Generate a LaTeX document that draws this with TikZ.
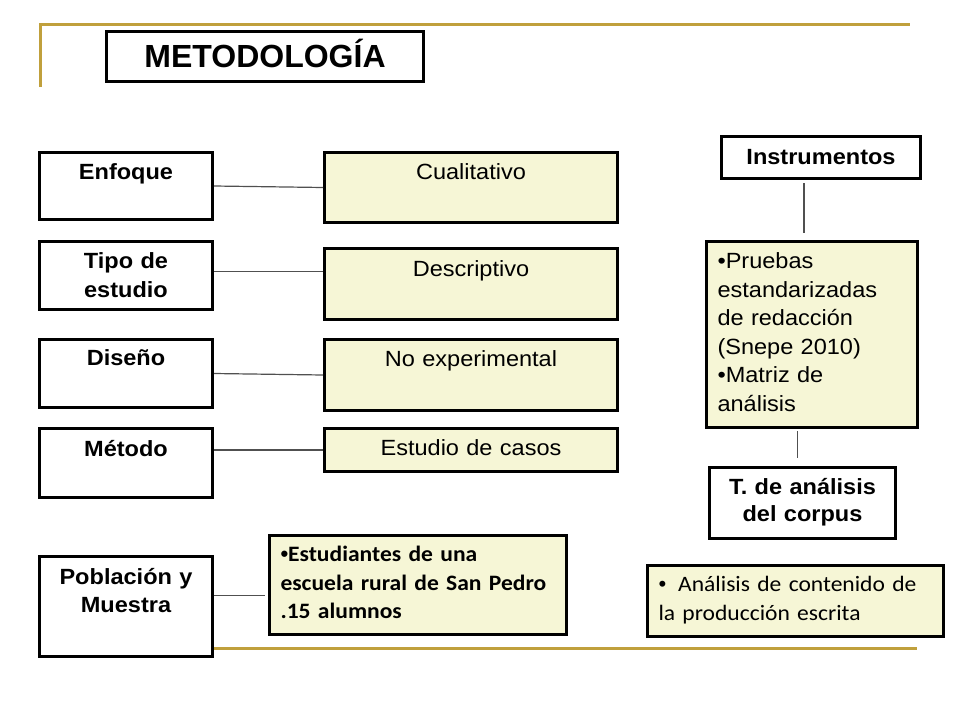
\documentclass[tikz,border=0pt]{standalone}
\usepackage{fontspec}
\setmainfont[FakeStretch=1.07]{Liberation Sans}
\newfontfamily\titulo{Liberation Sans}
\newfontfamily\calibri[FakeStretch=1.07]{Carlito}
\definecolor{amarillo}{RGB}{246,246,214}
\definecolor{dorado}{RGB}{192,160,60}
\definecolor{gris}{RGB}{80,80,80}
\newcommand{\vineta}{{\titulo•}}
\tikzset{
  caja/.style={draw=black, line width=3pt, fill=white, anchor=north west,
    inner xsep=4pt, inner ysep=0pt, align=center,
    font=\bfseries\fontsize{22}{29}\selectfont},
  cajaam/.style={caja, fill=amarillo, font=\fontsize{22}{29}\selectfont},
  conexion/.style={gris, line width=1.2pt},
  filete/.style={dorado, line width=3pt}
}
\begin{document}
\begin{tikzpicture}[x=1pt,y=-1pt]
\useasboundingbox (0,0) rectangle (960,720);
%\draw[gray,very thin] (0,0) grid[xstep=50,ystep=50] (960,720);
\draw[filete] (40,87) -- (40,24) -- (910,24);
\draw[filete] (212,648) -- (917,648);
% titulo
\node[caja, text width=309pt, text height=36pt, text depth=14pt,
  font=\titulo\bfseries\fontsize{32}{38}\selectfont] (metodologia) at (105,30) {METODOLOGÍA};
% columna izquierda
\node[caja, text width=165pt, text height=27pt, text depth=40pt] (enfoque) at (38,151) {Enfoque};
\node[caja, text width=165pt, text height=27pt, text depth=41pt] (tipo) at (38,240) {Tipo de\\estudio};
\node[caja, text width=165pt, text height=26pt, text depth=42pt] (diseno) at (38,338) {Diseño};
\node[caja, text width=165pt, text height=28pt, text depth=41pt] (metodo) at (38,427) {Método};
\node[caja, text width=165pt, text height=28pt, text depth=72pt,
  font=\bfseries\fontsize{22}{28}\selectfont] (poblacion) at (38,555) {Población y\\Muestra};
% columna central
\node[cajaam, text width=285pt, text height=27pt, text depth=43pt] (cualitativo) at (323,151) {Cualitativo};
\node[cajaam, text width=285pt, text height=28pt, text depth=43pt] (descriptivo) at (323,247) {Descriptivo};
\node[cajaam, text width=285pt, text height=27pt, text depth=44pt] (noexp) at (323,338) {No experimental};
\node[cajaam, text width=275pt, inner xsep=11pt, align=left, text height=26pt, text depth=73pt,
  font=\calibri\bfseries\fontsize{22}{28.5}\selectfont] (estudiantes) at (268,534)
  {\vineta Estudiantes de una\\escuela rural de San Pedro\\.15 alumnos};
\node[cajaam, text width=285pt, text height=27pt, text depth=16pt] (casos) at (323,427) {Estudio de casos};
% columna derecha
\node[caja, text width=191pt, text height=28pt, text depth=14pt] (instrumentos) at (720,135) {Instrumentos};
\node[cajaam, text width=189pt, inner xsep=11pt, align=left, text height=27pt, text depth=159pt,
  font=\fontsize{22}{28.6}\selectfont] (pruebas) at (705,240)
  {•Pruebas\\estandarizadas\\de redacción\\(Snepe 2010)\\•Matriz de\\análisis};
\node[caja, text width=178pt, text height=27pt, text depth=44pt,
  font=\bfseries\fontsize{22}{27}\selectfont] (tanalisis) at (708,466) {T. de análisis\\del corpus};
\node[cajaam, text width=274pt, inner xsep=11pt, align=left, text height=26pt, text depth=45pt,
  font=\calibri\fontsize{22}{29}\selectfont] (contenido) at (646,564)
  {\vineta\hspace{12pt}Análisis de contenido de\\la producción escrita};
% conexiones
\draw[conexion] (enfoque.east) -- (cualitativo.west);
\draw[conexion] ([yshift=4pt]tipo.east) -- ([yshift=4pt]tipo.east -| descriptivo.west);
\draw[conexion] (diseno.east) -- (noexp.west);
\draw[conexion] (metodo.east |- casos.west) -- (casos.west);
\draw[conexion] ([yshift=11pt]poblacion.east) -- ([yshift=11pt,xshift=-3pt]poblacion.east -| estudiantes.west);
\draw[conexion] ([xshift=-17pt,yshift=-3pt]instrumentos.south) -- ([xshift=-17pt,yshift=7pt]instrumentos.south |- pruebas.north);
\draw[conexion] ([xshift=-5pt,yshift=-2pt]tanalisis.north |- pruebas.south) -- ([xshift=-5pt,yshift=8pt]tanalisis.north);
\end{tikzpicture}
\end{document}
